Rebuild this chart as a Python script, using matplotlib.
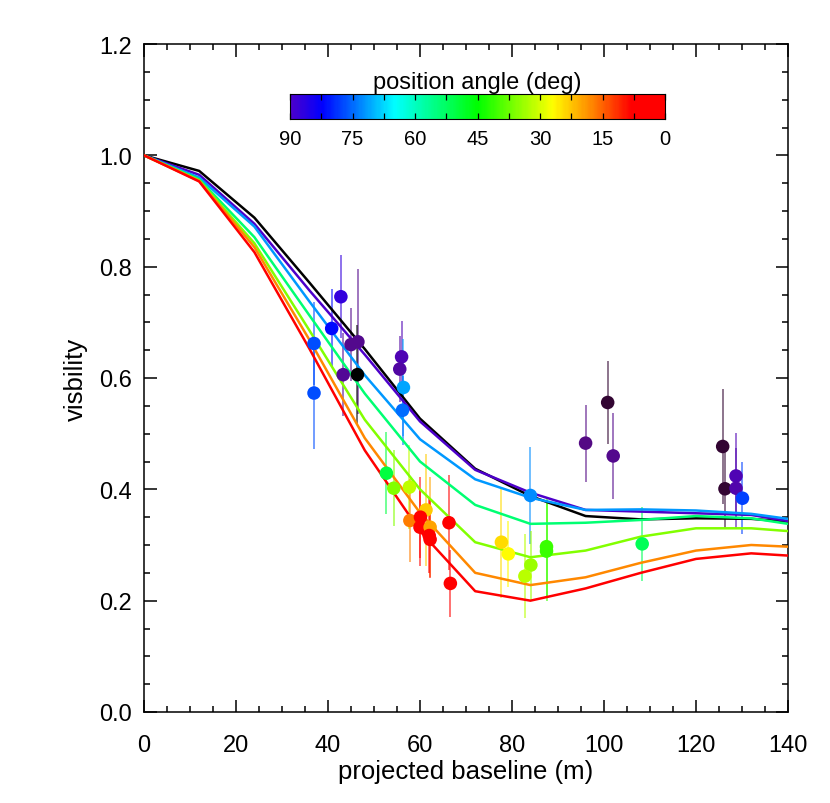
import numpy as np
import matplotlib
matplotlib.use('Agg')
import matplotlib.pyplot as plt
from matplotlib.colors import LinearSegmentedColormap, Normalize

plt.rcParams['font.family'] = ['Liberation Sans', 'DejaVu Sans']

# model curves: visibility vs projected baseline for several position angles
model_baseline = [0, 12, 24, 36, 48, 60, 72, 84, 96, 108, 120, 132, 140]
model_black = [1.0, 0.972, 0.888, 0.771, 0.652, 0.527, 0.437, 0.388, 0.352, 0.346, 0.348, 0.347, 0.342]
model_angles = [90, 72, 54, 36, 18, 0]
model_vis = [
    [1.0, 0.965, 0.877, 0.757, 0.642, 0.522, 0.435, 0.394, 0.363, 0.360, 0.357, 0.354, 0.343],
    [1.0, 0.960, 0.872, 0.737, 0.605, 0.490, 0.418, 0.385, 0.363, 0.364, 0.362, 0.356, 0.347],
    [1.0, 0.957, 0.853, 0.712, 0.572, 0.450, 0.372, 0.338, 0.340, 0.345, 0.352, 0.348, 0.338],
    [1.0, 0.955, 0.842, 0.685, 0.525, 0.400, 0.305, 0.278, 0.290, 0.315, 0.330, 0.330, 0.325],
    [1.0, 0.954, 0.835, 0.668, 0.492, 0.358, 0.250, 0.228, 0.242, 0.268, 0.290, 0.300, 0.297],
    [1.0, 0.953, 0.826, 0.652, 0.470, 0.325, 0.217, 0.200, 0.222, 0.250, 0.275, 0.285, 0.281],
]

# measured points
pt_baseline = [36.96, 36.96, 40.8, 42.8, 43.3, 45.0, 46.5, 46.4, 56.0, 55.6,
               56.4, 56.2, 52.7, 54.3, 57.7, 57.8, 61.3, 60.1, 60.0, 62.2,
               62.0, 62.2, 66.3, 66.6, 84.0, 77.7, 79.2, 84.1, 82.8, 87.5,
               87.5, 108.3, 96.0, 100.8, 102.0, 125.8, 126.3, 128.7, 128.7, 130.1]
pt_vis = [0.662, 0.573, 0.689, 0.746, 0.606, 0.660, 0.665, 0.606, 0.638, 0.616,
          0.583, 0.542, 0.429, 0.402, 0.404, 0.344, 0.363, 0.350, 0.332, 0.332,
          0.317, 0.310, 0.340, 0.231, 0.389, 0.305, 0.284, 0.264, 0.244, 0.297,
          0.289, 0.302, 0.483, 0.556, 0.460, 0.477, 0.401, 0.424, 0.402, 0.384]
pt_err = [0.075, 0.100, 0.070, 0.075, 0.075, 0.066, 0.130, 0.090, 0.065, 0.060,
          0.087, 0.062, 0.074, 0.068, 0.075, 0.075, 0.100, 0.073, 0.070, 0.090,
          0.068, 0.070, 0.085, 0.060, 0.087, 0.100, 0.060, 0.062, 0.075, 0.090,
          0.090, 0.067, 0.069, 0.075, 0.077, 0.103, 0.070, 0.078, 0.073, 0.065]
pt_angle = [77, 77, 82, 87.5, 95, 96, 96, 110, 92, 94,
            71, 75, 50, 36, 31.5, 17, 23, 4, 4, 20,
            4, 4, 4, 4, 73, 24.3, 27, 34, 31.8, 41,
            41, 51.7, 97, 103, 96, 103, 103, 92, 93, 78]

# rainbow table (angle -> colour), dark end used beyond 90 deg
stops = [(0, (1, 0, 0)), (8, (1, 0, 0)), (17, (1, 0.5, 0)), (27, (1, 1, 0)),
         (45, (0, 1, 0)), (65, (0, 1, 1)), (82.5, (0, 0, 1)), (90, (0.30, 0.0, 0.80)),
         (97, (0.33, 0.04, 0.52)), (103, (0.20, 0.02, 0.20)), (110, (0, 0, 0))]
amax = 110.0
cmap = LinearSegmentedColormap.from_list('idl_rainbow', [(a / amax, c) for a, c in stops])
norm = Normalize(0, amax)

fig = plt.figure(figsize=(8.3, 8.04), dpi=100)
ax = fig.add_axes([144 / 830, 1 - 713 / 804, 644 / 830, 668 / 804])

# error bars, model lines, points
cols = cmap(norm(np.array(pt_angle)))
lo = np.array(pt_vis) - np.array(pt_err)
hi = np.array(pt_vis) + np.array(pt_err)
ax.vlines(pt_baseline, lo, hi, colors=cols, linewidth=1.3, alpha=0.6, zorder=2)

ax.plot(model_baseline, model_black, color='black', lw=1.8, zorder=3)
for ang, vis in zip(model_angles, model_vis):
    ax.plot(model_baseline, vis, color=cmap(norm(ang)), lw=1.8, zorder=3)

ax.scatter(pt_baseline, pt_vis, s=95, c=cols, edgecolors='none', zorder=4)

ax.set_xlim(0, 140)
ax.set_ylim(0, 1.2)
ax.set_xticks(np.arange(0, 141, 20))
ax.set_xticks(np.arange(0, 141, 5), minor=True)
ax.set_yticks(np.arange(0, 1.21, 0.2))
ax.set_yticks(np.arange(0, 1.21, 0.05), minor=True)
ax.yaxis.set_major_formatter(plt.FormatStrFormatter('%.1f'))
ax.tick_params(which='both', direction='in', top=True, right=True, width=1.1)
ax.tick_params(which='major', length=9, labelsize=17)
ax.tick_params(axis='x', which='major', pad=16)
ax.tick_params(axis='y', which='major', pad=9)
ax.tick_params(which='minor', length=4.5)
for s in ax.spines.values():
    s.set_linewidth(1.1)
ax.set_xlabel('projected baseline (m)', fontsize=18.5, labelpad=2)
ax.set_ylabel('visbility', fontsize=18.5, labelpad=8)

# colour bar
cax = fig.add_axes([290 / 830, 1 - 120 / 804, 375 / 830, 25 / 804])
grad = np.linspace(90, 0, 256)[None, :]
cax.imshow(grad, aspect='auto', cmap=cmap, norm=norm, extent=[90, 0, 0, 1])
cax.set_xlim(90, 0)
cax.set_yticks([])
cax.set_xticks(np.arange(0, 91, 15))
cax.set_xticks(np.arange(0, 91, 7.5), minor=True)
cax.tick_params(which='both', direction='in', top=True, length=4, width=0.9)
cax.tick_params(labelsize=14.5, pad=7)
cax.set_title('position angle (deg)', fontsize=17, pad=4)

plt.savefig('out.png', dpi=100)
